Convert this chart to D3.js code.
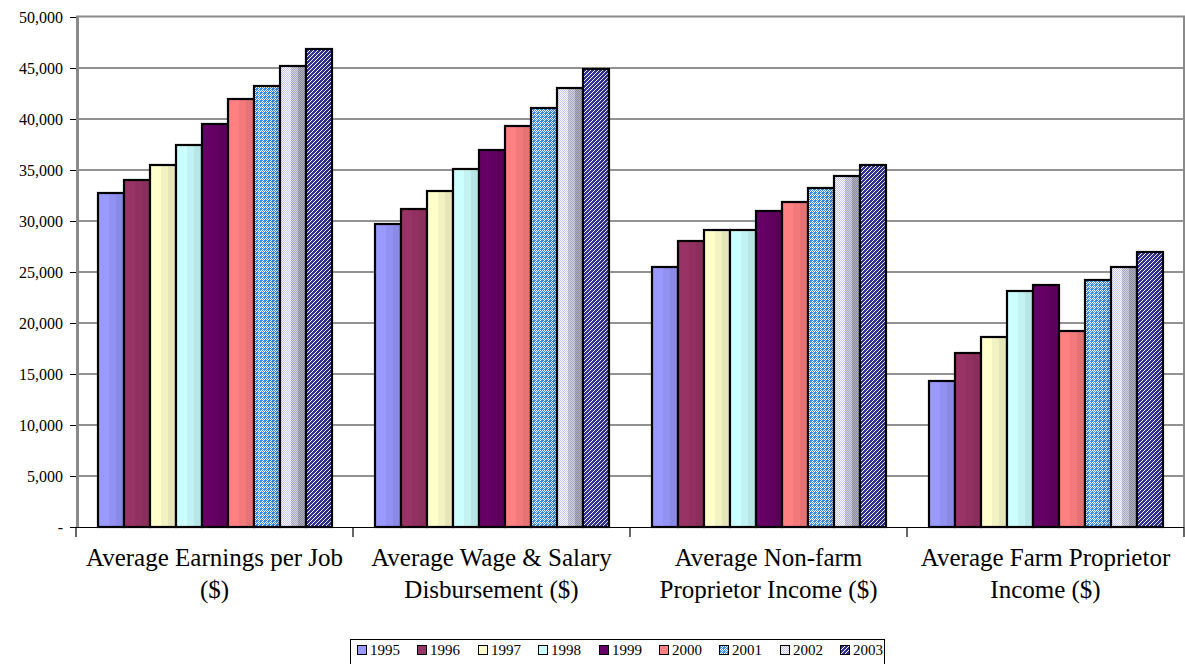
<!DOCTYPE html>
<html>
<head>
<meta charset="utf-8">
<script src="https://cdn.jsdelivr.net/npm/d3@7"></script>
<style>
  html, body { margin: 0; padding: 0; background: #fff; }
  svg { display: block; }
</style>
</head>
<body>
<svg id="chart" width="1185" height="664"></svg>
<script>
// ---- data ----
const categories = [
  ["Average Earnings per Job", "($)"],
  ["Average Wage & Salary", "Disbursement ($)"],
  ["Average Non-farm", "Proprietor Income  ($)"],
  ["Average Farm Proprietor", "Income ($)"]
];
const years = ["1995", "1996", "1997", "1998", "1999", "2000", "2001", "2002", "2003"];
// one array per year, values for the four categories
const v1995 = [32700, 29700, 25450, 14300];
const v1996 = [34000, 31200, 28000, 17100];
const v1997 = [35500, 32900, 29100, 18600];
const v1998 = [37450, 35100, 29100, 23100];
const v1999 = [39550, 37000, 31000, 23750];
const v2000 = [41950, 39350, 31900, 19250];
const v2001 = [43200, 41100, 33200, 24200];
const v2002 = [45150, 43000, 34400, 25450];
const v2003 = [46900, 44950, 35500, 26950];
const seriesValues = [v1995, v1996, v1997, v1998, v1999, v2000, v2001, v2002, v2003];
const yTicks = [0, 5000, 10000, 15000, 20000, 25000, 30000, 35000, 40000, 45000, 50000];

// ---- styles ----
const FONT = "'Liberation Serif', 'Times New Roman', serif";
const solidColors = {
  "1995": "#9999ff", "1996": "#993366", "1997": "#ffffcc",
  "1998": "#ccffff", "1999": "#660066", "2000": "#ff8080"
};
// patterned series: background, dash colour, dash pixels in a 4x4 tile
const patternDefs = {
  "2001": ["#3a8ee6", "#ffffff", [[0, 3], [1, 2], [2, 1], [3, 0], [2, 3], [3, 2]]],
  "2002": ["#ffffff", "#c4c4f2", [[0, 3], [1, 2], [2, 1], [3, 0], [2, 3], [3, 2], [0, 1], [1, 0]]],
  "2003": ["#333399", "#ffffff", [[0, 3], [1, 2], [2, 1], [3, 0]]]
};

const svg = d3.select("#chart");
const plotLeft = 76, plotRight = 1184, plotTop = 17, plotBottom = 527;

const defs = svg.append("defs");
Object.entries(patternDefs).forEach(([yr, [bg, fg, px]]) => {
  const p = defs.append("pattern")
    .attr("id", "pat" + yr)
    .attr("patternUnits", "userSpaceOnUse")
    .attr("width", 4).attr("height", 4);
  p.append("rect").attr("width", 4).attr("height", 4).attr("fill", bg);
  px.forEach(([x, y]) => {
    p.append("rect").attr("x", x).attr("y", y).attr("width", 1).attr("height", 1)
      .attr("fill", fg).attr("shape-rendering", "crispEdges");
  });
});

function shadeGradient(id, a1, a2) {
  const g = defs.append("linearGradient").attr("id", id)
    .attr("x1", "0%").attr("x2", "100%").attr("y1", "0%").attr("y2", "0%");
  [[0, 0], [0.42, 0], [0.42, a1], [0.7, a1], [0.7, a2], [1, a2]].forEach(([o, a]) => {
    g.append("stop").attr("offset", o).attr("stop-color", "#000").attr("stop-opacity", a);
  });
}
shadeGradient("shade", 0.05, 0.1);
shadeGradient("shadeStrong", 0.16, 0.3);

// ---- scales ----
const y = d3.scaleLinear().domain([0, 50000]).range([plotBottom, plotTop]);
const x0 = d3.scaleBand().domain(d3.range(categories.length)).range([plotLeft, plotRight]).padding(0);
const x1 = d3.scaleBand().domain(years).range([0, x0.bandwidth()])
  .paddingInner(0).paddingOuter(0.73).round(true);

// ---- gridlines and frame ----
svg.append("g").selectAll("line")
  .data(yTicks.filter(t => t > 0 && t < 50000))
  .join("line")
  .attr("x1", plotLeft).attr("x2", plotRight)
  .attr("y1", d => y(d)).attr("y2", d => y(d))
  .attr("stroke", "#6e6e6e").attr("stroke-width", 1.4);

svg.append("line").attr("x1", plotLeft).attr("x2", plotRight + 1).attr("y1", plotTop - 0.5).attr("y2", plotTop - 0.5)
  .attr("stroke", "#8a8a8a").attr("stroke-width", 2);
svg.append("line").attr("x1", plotRight).attr("x2", plotRight).attr("y1", plotTop - 1).attr("y2", plotBottom)
  .attr("stroke", "#8a8a8a").attr("stroke-width", 2);
svg.append("line").attr("x1", plotLeft + 1.5).attr("x2", plotLeft + 1.5).attr("y1", plotTop - 1).attr("y2", plotBottom)
  .attr("stroke", "#8a8a8a").attr("stroke-width", 3);

// ---- bars ----
const groups = svg.append("g").selectAll("g")
  .data(categories.map((c, i) => i))
  .join("g")
  .attr("transform", i => `translate(${Math.round(x0(i))},0)`);

groups.each(function (ci) {
  const g = d3.select(this);
  years.forEach((yr, si) => {
    const val = seriesValues[si][ci];
    const bx = x1(yr), bw = x1.bandwidth();
    const by = Math.round(y(val)), bh = y(0) - by;
    const fill = solidColors[yr] || `url(#pat${yr})`;
    g.append("rect").attr("x", bx).attr("y", by).attr("width", bw).attr("height", bh)
      .attr("fill", fill);
    g.append("rect").attr("x", bx).attr("y", by).attr("width", bw).attr("height", bh)
      .attr("fill", yr === "2002" ? "url(#shadeStrong)" : "url(#shade)");
    g.append("rect").attr("x", bx).attr("y", by).attr("width", bw).attr("height", bh)
      .attr("fill", "none").attr("stroke", "#000").attr("stroke-width", 2.2);
  });
});

// ---- y axis ----
const yAxis = d3.axisLeft(y).tickValues(yTicks).tickSize(6).tickPadding(7)
  .tickFormat(d => d === 0 ? "-" : d3.format(",")(d));
const ya = svg.append("g").attr("transform", `translate(${plotLeft},0)`).call(yAxis);
ya.attr("font-family", FONT).attr("font-size", 16);
ya.select(".domain").remove();
ya.selectAll(".tick line").attr("stroke", "#000");
ya.selectAll(".tick text").attr("fill", "#000").style("font-family", FONT).style("font-size", "16px");

// ---- x axis ----
svg.append("line").attr("x1", plotLeft - 6).attr("x2", plotRight).attr("y1", plotBottom + 0.5).attr("y2", plotBottom + 0.5)
  .attr("stroke", "#000").attr("stroke-width", 1.2);
svg.append("g").selectAll("line")
  .data(d3.range(categories.length + 1))
  .join("line")
  .attr("x1", i => plotLeft + i * x0.step()).attr("x2", i => plotLeft + i * x0.step())
  .attr("y1", plotBottom).attr("y2", plotBottom + 10)
  .attr("stroke", "#000").attr("stroke-width", 1.2);

const labels = svg.append("g").selectAll("text")
  .data(categories)
  .join("text")
  .attr("x", (d, i) => x0(i) + x0.bandwidth() / 2)
  .attr("text-anchor", "middle")
  .style("font-family", FONT)
  .style("font-size", "25px");
labels.each(function (d) {
  const t = d3.select(this);
  d.forEach((line, li) => {
    t.append("tspan").attr("x", t.attr("x")).attr("y", 566 + li * 32).text(line);
  });
});

// ---- legend ----
const legend = svg.append("g").attr("transform", "translate(350,639)");
legend.append("rect").attr("x", 0.5).attr("y", 0.5).attr("width", 534).attr("height", 30)
  .attr("fill", "#fff").attr("stroke", "#000").attr("stroke-width", 1);
const items = legend.selectAll("g.item").data(years).join("g")
  .attr("class", "item")
  .attr("transform", (d, i) => `translate(${Math.round(7 + i * 60.4)},0)`);
items.append("rect").attr("x", 0.5).attr("y", 6.5).attr("width", 9).attr("height", 9)
  .attr("fill", d => solidColors[d] || `url(#pat${d})`)
  .attr("stroke", "#000").attr("stroke-width", 1);
items.append("text").attr("x", 13).attr("y", 16)
  .style("font-family", FONT).style("font-size", "15px").text(d => d);
</script>
</body>
</html>
